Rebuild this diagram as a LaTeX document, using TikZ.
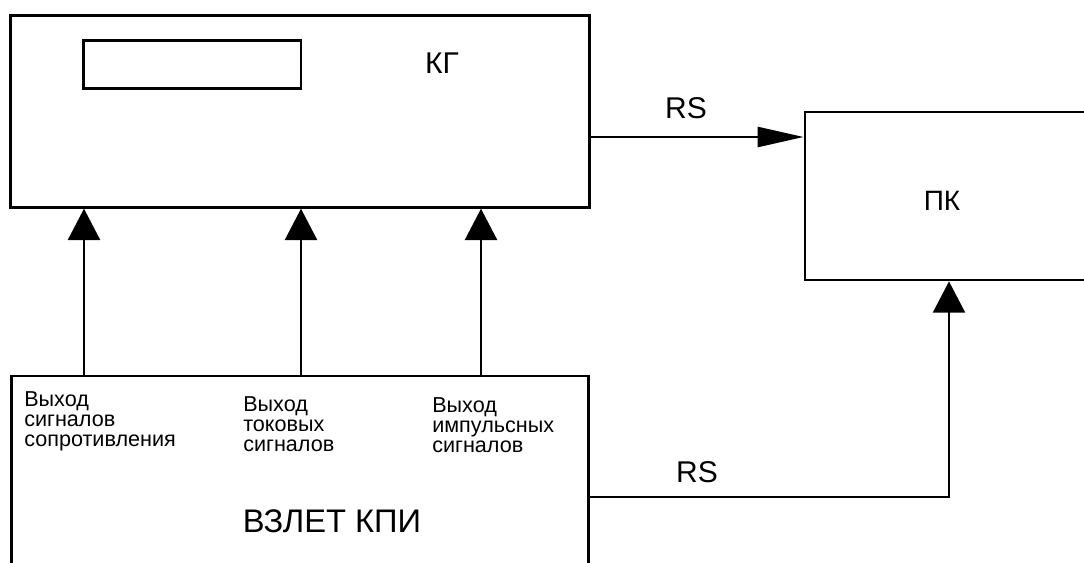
\documentclass[tikz,border=0pt]{standalone}
\usepackage{fontspec}
\setmainfont{Liberation Sans}
\usetikzlibrary{arrows.meta,positioning}

\begin{document}
\begin{tikzpicture}[x=0.75pt, y=-0.75pt,
    box/.style={draw, line width=2.1pt, inner sep=0pt},
    conn/.style={line width=1.9pt},
    harrow/.style={conn, -{Triangle[length=34.5pt, width=15pt]}},
    varrow/.style={conn, -{Triangle[length=23.5pt, width=24pt]}},
    big/.style={font=\fontsize{22.5}{26}\selectfont, inner sep=0pt},
    small/.style={font=\fontsize{16.2}{15}\selectfont, align=left, anchor=north west, inner sep=0pt}]
  \clip (0,0) rectangle (1084,563);
  \fill[white] (0,0) rectangle (1084,563);

  % Blocks
  \node[box, minimum width=434.1pt, minimum height=143.7pt] (kg) at (299.9,111.5) {};
  \node[box, minimum width=163.2pt, minimum height=35.7pt] (disp) at (192.2,64.5) {};
  \node[big] (kgname) at (442,63) {КГ};

  \node[box, minimum width=217.5pt, minimum height=126pt] (pk) at (950,196) {};
  \node[big, font=\fontsize{21}{24}\selectfont] (pkname) at (942,201) {ПК};

  \node[box, minimum width=433.1pt, minimum height=153pt] (kpi) at (300,478) {};
  \node[big, font=\fontsize{24.5}{28}\selectfont] (kpiname) at (332,521) {ВЗЛЕТ КПИ};

  % Outputs
  \node[small] (out1) at (24,391) {Выход\\сигналов\\сопротивления};
  \node[small] (out2) at (243,396) {Выход\\токовых\\сигналов};
  \node[small] (out3) at (432,397) {Выход\\импульсных\\сигналов};

  % Connectors
  \foreach \x in {84,301,481}
    \draw[varrow] (\x,0 |- kpi.north) -- (\x,0 |- kg.south);
  \draw[harrow] (kg.east |- 0,137) -- (pk.west |- 0,137);
  \draw[varrow] (kpi.east |- 0,497) -| (949,0 |- pk.south);

  \node[big] (rs1) at (686,108) {RS};
  \node[big] (rs2) at (697,472) {RS};
\end{tikzpicture}
\end{document}
